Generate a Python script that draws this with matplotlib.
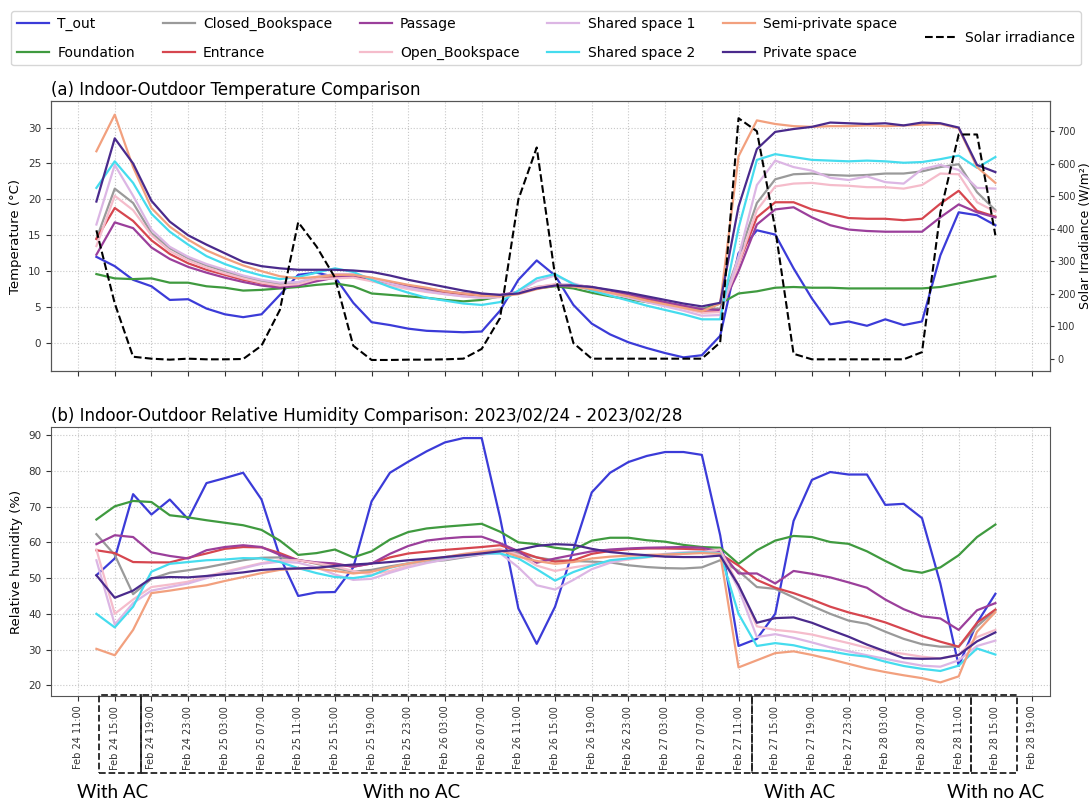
import matplotlib
matplotlib.use('Agg')
import matplotlib.pyplot as plt
import matplotlib.dates as mdates
import matplotlib.transforms as mtransforms
from matplotlib.patches import Rectangle
import pandas as pd

# sampled every 2 hours, Feb 24 13:00 -> Feb 28 15:00
times = pd.date_range('2023-02-24 13:00', periods=50, freq='2h')

# ---- temperature (deg C) ----
t_out = [12.0, 10.7, 8.8, 7.9, 6.0, 6.1, 4.8, 4.0, 3.6, 4.0, 6.7, 9.5, 9.8, 9.2, 5.6, 2.9, 2.5, 2.0, 1.7, 1.6,
         1.5, 1.6, 4.5, 8.8, 11.5, 9.4, 5.3, 2.7, 1.2, 0.1, -0.7, -1.4, -2.0, -1.7, 1.0, 12.5, 15.7, 15.1, 10.4, 6.2,
         2.6, 3.0, 2.4, 3.3, 2.5, 3.0, 12.2, 18.2, 17.8, 16.4]
t_foundation = [9.6, 9.0, 8.9, 9.0, 8.4, 8.4, 7.9, 7.7, 7.3, 7.4, 7.6, 7.8, 8.1, 8.3, 7.9, 6.9, 6.7, 6.5, 6.3, 6.0,
                5.8, 6.0, 6.5, 7.0, 7.6, 7.9, 7.6, 7.0, 6.5, 6.1, 5.7, 5.3, 5.0, 4.7, 5.5, 6.9, 7.2, 7.7, 7.8, 7.7,
                7.7, 7.6, 7.6, 7.6, 7.6, 7.6, 7.8, 8.3, 8.8, 9.3]
t_closed = [14.5, 21.5, 19.5, 15.3, 13.2, 11.8, 10.8, 10.0, 9.2, 8.6, 8.2, 8.3, 9.0,
            9.3, 9.3, 8.8, 8.3, 7.9, 7.5, 7.1, 6.8, 6.6, 6.6, 7.1, 7.8, 8.1, 8.0, 7.6, 7.1, 6.6, 6.1, 5.6, 5.1, 4.8, 4.8,
            12.0, 19.5, 22.8, 23.5, 23.6, 23.4, 23.3, 23.4, 23.6, 23.6, 23.9, 24.5, 24.9, 21.0, 18.5]
t_entrance = [14.5, 18.8, 17.0, 14.3, 12.4, 11.1, 10.2, 9.5, 8.8, 8.3, 7.9, 8.1, 8.8,
              9.2, 9.3, 8.7, 8.1, 7.6, 7.2, 6.9, 6.6, 6.5, 6.5, 7.0, 7.7, 8.0, 7.9, 7.5, 7.0, 6.5, 6.0, 5.4, 4.9, 4.3, 4.4,
              11.0, 17.5, 19.6, 19.6, 18.6, 18.0, 17.4, 17.3, 17.3, 17.1, 17.3, 19.4, 21.2, 18.4, 17.6]
t_passage = [12.3, 16.8, 16.0, 13.3, 11.7, 10.6, 9.8, 9.1, 8.5, 8.0, 7.7, 8.0, 8.6,
             9.1, 9.4, 9.0, 8.5, 8.0, 7.6, 7.2, 6.9, 6.7, 6.7, 7.1, 7.7, 8.1, 8.1, 7.8, 7.3, 6.8, 6.3, 5.7, 5.2, 4.7, 4.6,
             10.0, 16.5, 18.6, 18.9, 17.5, 16.4, 15.8, 15.6, 15.5, 15.5, 15.5, 17.5, 19.3, 18.2, 17.5]
t_open = [13.5, 20.5, 18.5, 15.0, 12.8, 11.5, 10.5, 9.7, 9.0, 8.4, 8.0, 8.2, 8.9,
          9.0, 9.1, 8.6, 8.0, 7.5, 7.1, 6.8, 6.5, 6.3, 6.4, 7.0, 7.8, 8.2, 7.9, 7.4, 6.9, 6.4, 5.8, 5.3, 4.8, 4.2, 4.3,
          11.0, 18.5, 21.8, 22.2, 22.3, 22.0, 21.9, 21.7, 21.7, 21.5, 22.0, 23.6, 23.5, 19.6, 18.3]
t_shared1 = [16.5, 24.8, 20.5, 15.8, 13.4, 12.0, 11.0, 10.2, 9.4, 8.8, 8.4, 8.5, 9.2,
             9.6, 9.6, 9.0, 8.3, 7.7, 7.2, 6.8, 6.5, 6.3, 6.4, 7.2, 8.6, 9.4, 8.3, 7.6, 7.0, 6.3, 5.7, 5.1, 4.5, 3.8, 3.9,
             12.0, 22.0, 25.4, 24.5, 24.0, 23.0, 22.7, 23.2, 22.4, 22.2, 24.2, 24.8, 24.1, 21.6, 21.5]
t_shared2 = [21.6, 25.3, 22.3, 18.0, 15.5, 13.7, 12.1, 11.0, 10.1, 9.4, 8.9, 9.2, 9.8,
             10.4, 9.9, 8.8, 7.8, 7.0, 6.3, 5.9, 5.5, 5.3, 5.7, 7.3, 9.0, 9.6, 8.2, 7.3, 6.6, 5.9, 5.2, 4.6, 4.0, 3.3, 3.3,
             16.0, 25.5, 26.3, 25.9, 25.5, 25.4, 25.3, 25.4, 25.3, 25.1, 25.2, 25.6, 26.1, 24.4, 25.9]
t_semi = [26.7, 31.8, 24.5, 18.8, 16.2, 14.4, 12.9, 11.8, 10.8, 10.0, 9.3, 9.0, 9.2,
          9.5, 9.5, 9.1, 8.6, 8.1, 7.7, 7.2, 6.9, 6.6, 6.5, 6.8, 7.5, 8.0, 7.9, 7.5, 7.0, 6.5, 5.9, 5.4, 4.9, 4.4, 5.5,
          26.0, 31.0, 30.5, 30.2, 30.1, 30.2, 30.2, 30.3, 30.2, 30.3, 30.4, 30.5, 29.9, 24.5, 22.3]
t_private = [19.7, 28.5, 25.0, 19.8, 16.9, 15.0, 13.7, 12.5, 11.3, 10.7, 10.4, 10.2, 10.2,
             10.2, 10.1, 9.9, 9.4, 8.8, 8.3, 7.8, 7.3, 6.9, 6.7, 6.9, 7.6, 8.0, 8.0, 7.8, 7.4, 7.0, 6.5, 6.0, 5.5, 5.1, 5.6,
             19.0, 27.0, 29.4, 29.8, 30.1, 30.7, 30.6, 30.5, 30.6, 30.3, 30.7, 30.6, 30.0, 24.8, 23.8]
solar = [395, 170, 6, 0, -3, 0, -2, -2, -1, 40, 150, 420, 345, 250, 40, -4, -4, -3, -3, -2,
         0, 30, 125, 490, 650, 255, 48, 0, 0, 0, 0, 0, 0, 0, 50, 740, 700, 400, 15, -2,
         -2, -2, -2, -2, -2, 20, 450, 690, 690, 380]

# ---- relative humidity (%) ----
rh_out = [50.8, 55.5, 73.5, 67.8, 72.0, 66.5, 76.6, 78.0, 79.5, 72.0, 56.0, 45.0, 46.0, 46.1, 53.0, 71.5, 79.5, 82.6,
          85.5, 88.0, 89.2, 89.2, 67.0, 41.5, 31.6, 42.0, 58.0, 74.0, 79.5, 82.5, 84.2, 85.3, 85.3, 84.5, 62.0, 31.0,
          33.0, 40.0, 66.0, 77.5, 79.7, 79.0, 79.0, 70.5, 70.8, 66.8, 48.5, 25.5, 37.5, 45.6]
rh_foundation = [66.4, 70.1, 71.6, 71.3, 67.6, 67.0, 66.2, 65.5, 64.8, 63.5, 60.5, 56.5, 57.0, 58.0, 55.8, 57.5,
                 60.8, 62.9, 63.9, 64.4, 64.8, 65.2, 63.0, 60.0, 59.5, 58.5, 57.9, 60.5, 61.3, 61.3, 60.6, 60.2,
                 59.3, 58.7, 58.5, 54.0, 57.8, 60.5, 61.8, 61.5, 60.1, 59.6, 57.5, 54.8, 52.3, 51.5, 53.0, 56.4,
                 61.5, 65.0]
rh_closed = [62.3, 56.5, 45.5, 49.8, 51.5, 52.2, 53.0, 54.0, 55.0, 55.7, 55.8, 55.1, 54.0, 52.8, 51.8, 52.3, 53.3,
             54.1, 54.6, 55.0, 55.8, 56.6, 57.7, 57.0, 55.8, 55.0, 54.8, 54.6, 54.4, 53.6, 53.1, 52.8, 52.7, 53.0,
             55.0, 52.0, 47.5, 47.0, 44.6, 42.2, 40.0, 38.1, 37.2, 35.0, 33.0, 31.5, 30.8, 30.8, 36.5, 41.0]
rh_entrance = [57.8, 57.0, 54.5, 54.4, 54.4, 55.7, 56.9, 58.2, 58.7, 58.6, 57.0, 55.0, 54.2, 53.9, 53.2, 54.1, 55.8,
               56.9, 57.4, 57.9, 58.3, 58.7, 59.2, 57.6, 55.8, 54.6, 55.0, 56.8, 57.6, 58.1, 58.3, 58.3, 58.2, 58.0,
               56.8, 53.5, 49.5, 47.3, 45.8, 44.0, 42.0, 40.4, 39.1, 37.6, 35.7, 33.8, 32.2, 30.8, 37.5, 41.2]
rh_passage = [59.5, 62.0, 61.5, 57.2, 56.2, 55.5, 57.8, 58.7, 59.2, 58.7, 56.5, 55.0, 54.4, 54.1, 53.2, 54.1, 56.8,
              59.0, 60.5, 61.1, 61.5, 61.6, 59.8, 57.5, 54.3, 55.5, 56.5, 57.5, 58.0, 58.3, 58.5, 58.6, 58.7, 58.5,
              57.5, 51.3, 51.3, 48.5, 52.0, 51.2, 50.2, 48.8, 47.3, 44.0, 41.3, 39.3, 38.7, 35.5, 41.0, 43.0]
rh_open = [58.0, 40.0, 44.0, 47.5, 48.2, 49.0, 50.5, 51.8, 53.0, 54.2, 55.0, 55.0, 54.2, 53.3, 52.0, 51.0, 52.0,
           53.5, 54.8, 55.8, 56.8, 57.5, 58.2, 56.5, 53.5, 52.0, 53.0, 53.8, 54.5, 55.2, 55.8, 56.3, 56.8, 57.3,
           58.0, 48.0, 36.5, 35.5, 35.0, 34.2, 33.0, 31.8, 30.5, 29.5, 28.8, 28.0, 27.5, 28.5, 33.5, 35.5]
rh_shared1 = [55.0, 37.0, 43.0, 46.5, 47.5, 48.5, 50.0, 51.5, 52.8, 54.0, 54.6, 54.3, 53.0, 51.0, 49.5, 49.8, 51.5,
              53.0, 54.2, 55.2, 56.0, 56.6, 57.0, 53.0, 48.0, 46.8, 49.5, 52.5, 54.3, 55.5, 56.0, 56.8, 57.2, 57.4,
              57.0, 47.0, 33.5, 34.3, 33.3, 32.0, 30.6, 29.5, 28.4, 27.4, 26.4, 25.5, 25.2, 27.0, 31.0, 32.5]
rh_shared2 = [40.0, 36.2, 42.0, 51.8, 54.0, 54.5, 55.0, 55.2, 55.6, 55.5, 54.5, 52.8, 51.4, 50.3, 50.0, 50.7, 52.9,
              54.1, 55.0, 55.8, 56.4, 56.9, 56.9, 55.5, 52.5, 49.3, 51.7, 53.5, 55.0, 55.5, 55.9, 56.6, 57.0, 57.2,
              56.9, 40.0, 31.0, 31.8, 31.2, 30.0, 29.5, 28.6, 28.0, 26.6, 25.4, 24.6, 24.0, 25.5, 30.3, 28.6]
rh_semi = [30.2, 28.4, 35.5, 45.8, 46.5, 47.3, 48.0, 49.2, 50.3, 51.4, 52.3, 52.7, 52.7, 52.0, 51.3, 51.8, 53.0,
           54.1, 55.0, 55.9, 56.7, 57.3, 57.8, 56.0, 54.8, 54.0, 54.5, 55.5, 56.0, 56.3, 56.5, 56.6, 56.8, 57.0,
           56.8, 25.0, 27.0, 29.0, 29.5, 28.5, 27.3, 26.0, 24.7, 23.7, 22.8, 22.0, 20.8, 22.5, 35.0, 40.5]
rh_private = [50.8, 44.5, 46.5, 50.0, 50.3, 50.2, 50.6, 51.1, 51.6, 52.3, 52.6, 52.7, 52.9, 53.4, 53.8, 54.1, 54.5,
              55.0, 55.4, 55.9, 56.4, 56.9, 57.5, 57.9, 59.0, 59.5, 59.3, 58.2, 57.3, 56.8, 56.4, 56.0, 55.9, 55.9,
              56.3, 48.0, 37.5, 38.8, 39.0, 37.5, 35.5, 33.6, 31.4, 29.5, 27.6, 27.4, 27.5, 28.5, 32.3, 34.8]

labels = ['T_out', 'Foundation', 'Closed_Bookspace', 'Entrance', 'Passage', 'Open_Bookspace',
          'Shared space 1', 'Shared space 2', 'Semi-private space', 'Private space']
colors = ['#3b3bd8', '#3f9a3f', '#9a9a9a', '#d6464f', '#9b3f9b', '#f5bccb',
          '#dcb6e4', '#45dcee', '#f2a07e', '#4a2a8c']
temps = [t_out, t_foundation, t_closed, t_entrance, t_passage, t_open, t_shared1, t_shared2, t_semi, t_private]
hums = [rh_out, rh_foundation, rh_closed, rh_entrance, rh_passage, rh_open, rh_shared1, rh_shared2, rh_semi,
        rh_private]

# AC on/off periods drawn under the time axis
period_start = ['2023-02-24 13:20', '2023-02-24 17:50', '2023-02-27 12:25', '2023-02-28 12:20']
period_end = ['2023-02-24 17:50', '2023-02-27 12:25', '2023-02-28 12:20', '2023-02-28 17:20']
period_labels = ['With AC', 'With no AC', 'With AC', 'With no AC']
period_label_x = [0.1035, 0.3765, 0.7326, 0.9115]

fig = plt.figure(figsize=(10.92, 8.01), dpi=100)
ax1 = fig.add_axes([0.0467, 0.5368, 0.9148, 0.3371])
ax2 = fig.add_axes([0.0467, 0.1311, 0.9148, 0.3358])

for data, lab, c in zip(temps, labels, colors):
    ax1.plot(times, data, color=c, lw=1.6, label=lab)
ax1r = ax1.twinx()
ax1r.plot(times, solar, color='black', ls='--', lw=1.5, label='Solar irradiance')

for data, lab, c in zip(hums, labels, colors):
    ax2.plot(times, data, color=c, lw=1.6, label=lab)

xmin = pd.Timestamp('2023-02-24 08:03')
xmax = pd.Timestamp('2023-02-28 20:57')
for ax in (ax1, ax2):
    ax.set_xlim(xmin, xmax)
    ax.xaxis.set_major_locator(mdates.HourLocator(byhour=[3, 7, 11, 15, 19, 23]))
    ax.xaxis.set_major_formatter(mdates.DateFormatter('%b %d %H:%M'))
    ax.grid(True, color='#c8c8c8', ls=':', lw=0.8)
    ax.tick_params(labelsize=7.5, colors='#333333')
    for s in ax.spines.values():
        s.set_color('#555555')
ax1.tick_params(labelbottom=False)
for s in ax1r.spines.values():
    s.set_color('#555555')
ax1r.tick_params(labelsize=7, colors='#333333', pad=2, length=3)
plt.setp(ax2.get_xticklabels(), rotation=90, fontsize=7)

ax1.set_ylim(-3.9, 33.7)
ax1r.set_ylim(-38, 793)
ax2.set_ylim(17.0, 92.3)

ax1.set_ylabel('Temperature (°C)', fontsize=9.5)
ax1r.set_ylabel('Solar Irradiance (W/m²)', fontsize=9, labelpad=2)
ax2.set_ylabel('Relative humidity (%)', fontsize=9.5)
ax1.set_title('(a) Indoor-Outdoor Temperature Comparison', loc='left', fontsize=12, pad=4)
ax2.set_title('(b) Indoor-Outdoor Relative Humidity Comparison: 2023/02/24 - 2023/02/28',
              loc='left', fontsize=12, pad=4)

handles = ax1.get_lines() + ax1r.get_lines()
leg = fig.legend(handles, [h.get_label() for h in handles], loc='upper center',
                 bbox_to_anchor=(0.5, 0.995), ncol=6, fontsize=10, handlelength=2.3,
                 handletextpad=0.6, columnspacing=2.0, labelspacing=1.1, edgecolor='#cccccc')
# put the single entry of the last column in the middle, like the original
leg._legend_handle_box.align = 'center'

trans = mtransforms.blended_transform_factory(ax2.transData, fig.transFigure)
for start, end in zip(period_start, period_end):
    x0 = mdates.date2num(pd.Timestamp(start))
    x1 = mdates.date2num(pd.Timestamp(end))
    fig.add_artist(Rectangle((x0, 0.035), x1 - x0, 0.097, transform=trans, fill=False,
                             ls='--', lw=1.3, ec='#222222'))
for lab, xt in zip(period_labels, period_label_x):
    fig.text(xt, 0.011, lab, ha='center', va='center', fontsize=13.5, family=['Lato', 'DejaVu Sans'])

plt.savefig('out.png', dpi=100)
